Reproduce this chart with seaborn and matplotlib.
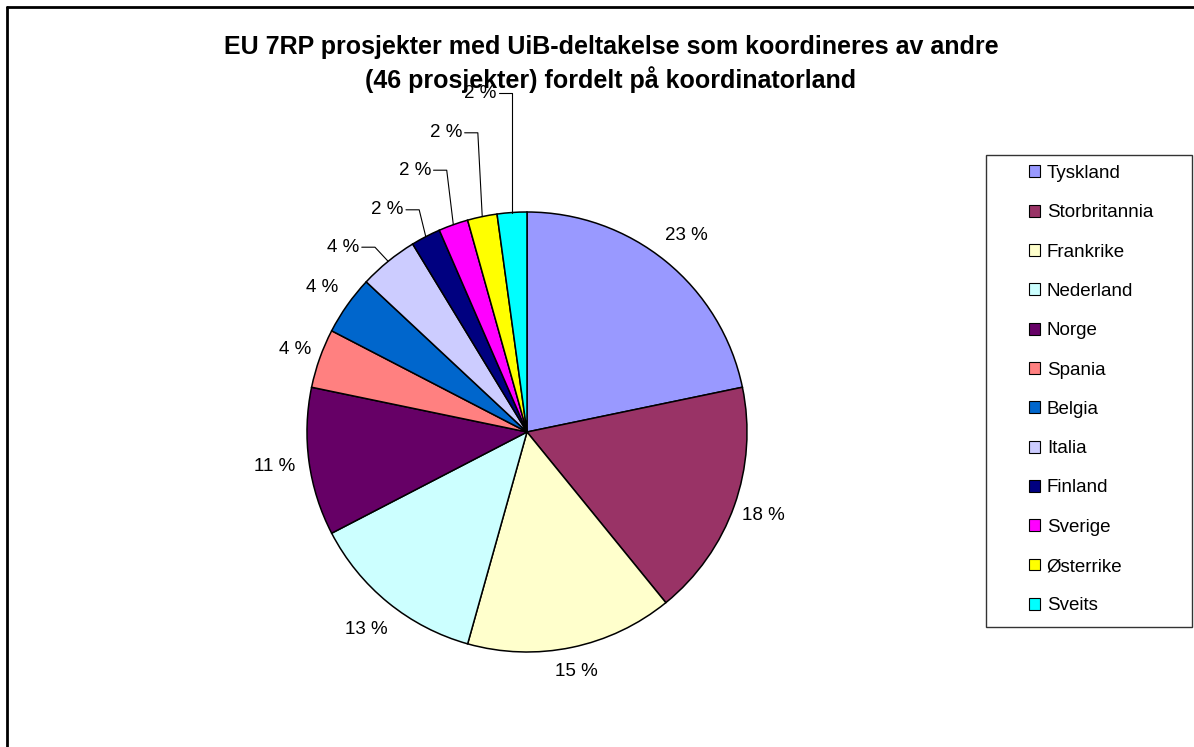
import numpy as np
import matplotlib
matplotlib.use("Agg")
import matplotlib.pyplot as plt
import seaborn as sns
from matplotlib.lines import Line2D
from matplotlib.patches import Rectangle

sns.set_theme(style="white")
plt.rcParams['font.family'] = ['Liberation Sans', 'DejaVu Sans']
plt.rcParams['text.color'] = 'black'

# ---- data ----
countries = ["Tyskland", "Storbritannia", "Frankrike", "Nederland", "Norge", "Spania",
             "Belgia", "Italia", "Finland", "Sverige", "Østerrike", "Sveits"]
projects = [10, 8, 7, 6, 5, 2, 2, 2, 1, 1, 1, 1]
pct_labels = ["23 %", "18 %", "15 %", "13 %", "11 %", "4 %", "4 %", "4 %", "2 %", "2 %", "2 %", "2 %"]
colors = ["#9999FF", "#993366", "#FFFFCC", "#CCFFFF", "#660066", "#FF8080",
          "#0066CC", "#CCCCFF", "#000080", "#FF00FF", "#FFFF00", "#00FFFF"]
title = "EU 7RP prosjekter med UiB-deltakelse som koordineres av andre\n(46 prosjekter) fordelt på koordinatorland"

# ---- figure ----
W, H = 1194, 747
fig = plt.figure(figsize=(W / 100, H / 100), dpi=100)
fig.patch.set_facecolor("white")
cx, cy, R = 527, 432, 220  # pixel centre and radius
ax = fig.add_axes([0, 0, 1, 1])

wedges, _ = ax.pie(projects, colors=colors, startangle=90, counterclock=False,
                   radius=1.0, wedgeprops=dict(edgecolor="black", linewidth=1.1),
                   labels=None)
ax.set_aspect("auto")
ax.set_xlim(-cx / R, (W - cx) / R)
ax.set_ylim(-(H - cy) / R, cy / R)
ax.axis("off")

# label placement (style)
label_r = [1.15, 1.14, 1.11, 1.16, 1.16, 1.12, 1.14]
leader_y = {7: 0.84, 8: 1.01, 9: 1.19, 10: 1.36, 11: 1.54}
leader_dx = {7: 0.06, 8: 0.03, 9: 0.03, 10: 0.02, 11: 0.0}
lab_fs = 13.5

for i, w in enumerate(wedges):
    ang = np.deg2rad((w.theta1 + w.theta2) / 2)
    if i in leader_y:
        ex, ey = np.cos(ang), np.sin(ang)
        kx, ky = ex - leader_dx[i], leader_y[i]
        hx = kx - 0.06
        ax.plot([ex, kx, hx], [ey, ky, ky], color="black", lw=0.8)
        ax.text(hx - 0.01, ky, pct_labels[i], ha="right", va="center", fontsize=lab_fs, color="black")
    else:
        r = label_r[i]
        ax.text(r * np.cos(ang), r * np.sin(ang), pct_labels[i], ha="center", va="center",
                fontsize=lab_fs, color="black")

fig.text(611 / W, 1 - 64 / H, title, ha="center", va="center", fontsize=18,
         fontweight="bold", linespacing=1.3, color="black")

# outer frame (partly cropped)
fig.add_artist(Line2D([7 / W, 7 / W], [0, 1 - 7 / H], transform=fig.transFigure, color="black", lw=2))
fig.add_artist(Line2D([7 / W, 1], [1 - 7 / H, 1 - 7 / H], transform=fig.transFigure, color="black", lw=2))

# legend frame
fig.add_artist(Rectangle((986 / W, 1 - 627 / H), 206 / W, 472 / H, transform=fig.transFigure,
                         facecolor="white", edgecolor="#333333", lw=1, zorder=1))
leg = fig.legend(wedges, countries, loc="upper left", bbox_to_anchor=(1029 / W, 1 - 165 / H),
                 frameon=False, fontsize=13.5,
                 handlelength=0.6, handleheight=0.6, handletextpad=0.35, labelspacing=1.19,
                 borderpad=0, borderaxespad=0)
leg.set_zorder(2)
for h in leg.legend_handles:
    h.set_linewidth(0.8)

fig.savefig("out.png", dpi=100, facecolor="white")
